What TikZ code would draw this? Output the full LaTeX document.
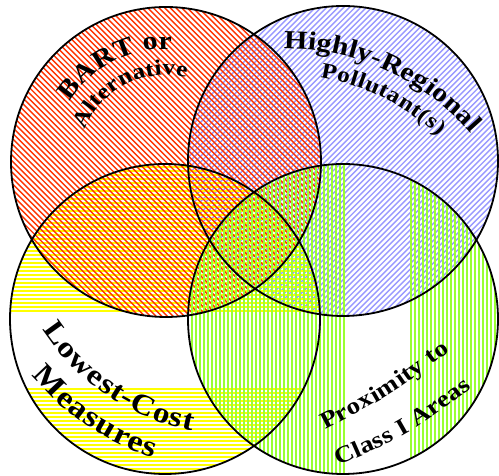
\documentclass[tikz,border=0pt]{standalone}
\usepackage{fontspec}
\setmainfont{Liberation Serif}[FakeStretch=1.15]
\usetikzlibrary{decorations.text}
\definecolor{hred}{RGB}{255,51,0}
\definecolor{hblue}{RGB}{153,153,255}
\definecolor{hyellow}{RGB}{255,255,0}
\definecolor{hgreen}{RGB}{153,255,51}
\newcommand\fBart{\fontsize{26}{28}\selectfont\bfseries}
\newcommand\fAlt{\fontsize{22}{24}\selectfont\bfseries}
\newcommand\fHigh{\fontsize{26}{28}\selectfont\bfseries}
\newcommand\fPoll{\fontsize{22}{24}\selectfont\bfseries}
\newcommand\fLow{\fontsize{29}{31}\selectfont\bfseries}
\newcommand\fMea{\fontsize{30}{32}\selectfont\bfseries}
\newcommand\fProx{\fontsize{23.5}{25}\selectfont\bfseries}
\begin{document}
\begin{tikzpicture}[x=1pt,y=1pt,
  dhatch/.style={line width=1.4pt},
  yhatch/.style={line width=1.8pt,hyellow},
  ghatch/.style={line width=1.3pt,hgreen},
  ring/.style={draw=black,line width=1.8pt},
  lbl/.style={decorate}]
\fill[white] (0,0) rectangle (499,476);
\useasboundingbox (0,0) rectangle (499,476);

% blue circle hatching (/)
\begin{scope}[shift={(343,315)}]
  \clip (0,0) circle[radius=155];
  \foreach \i in {-40,...,40} \draw[dhatch,hblue] (\i*5.66-165,-165) -- (\i*5.66+165,165);
\end{scope}

% yellow circle hatching (horizontal), with a gap band
\begin{scope}[shift={(165,157)}]
  \clip (0,0) circle[radius=155];
  \foreach \i in {0,...,37} \draw[yhatch] (-160,8+\i*4) -- (160,8+\i*4);
  \foreach \i in {0,...,22} \draw[yhatch] (-160,-70-\i*4) -- (160,-70-\i*4);
\end{scope}

% red circle hatching (\)
\begin{scope}[shift={(166,314)}]
  \clip (0,0) circle[radius=155];
  \foreach \i in {-40,...,40} \draw[dhatch,hred] (\i*5.66-165,165) -- (\i*5.66+165,-165);
\end{scope}

% green circle hatching (vertical), with a gap band
\begin{scope}[shift={(343,157)}]
  \clip (0,0) circle[radius=155];
  \foreach \i in {0,...,39} \draw[ghatch] (1-\i*4,-160) -- (1-\i*4,160);
  \foreach \i in {0,...,22} \draw[ghatch] (68+\i*4,-160) -- (68+\i*4,160);
\end{scope}

% outlines
\draw[ring] (166,314) circle[radius=155];
\draw[ring] (343,315) circle[radius=155];
\draw[ring] (165,157) circle[radius=155];
\draw[ring] (343,157) circle[radius=155];

% labels
\path[lbl,decoration={text along path,text={|\fBart|BART or},text align=fit to path}]
  ([shift={(148:113)}]166,314) arc[start angle=148,end angle=87,radius=113];
\path[lbl,decoration={text along path,text={|\fAlt|Alternative},text align=fit to path}]
  ([shift={(158.5:87)}]166,314) arc[start angle=158.5,end angle=76.5,radius=87];

\path[lbl,decoration={text along path,text={|\fHigh|Highly-Regional},text align=fit to path}]
  ([shift={(90.5:245)}]286,182) arc[start angle=90.5,end angle=41,radius=245];
\path[lbl,decoration={text along path,text={|\fPoll|Pollutant(s)},text align=fit to path}]
  ([shift={(81:219)}]286,182) arc[start angle=81,end angle=46,radius=219];

\path[lbl,decoration={text along path,text={|\fLow|Lowest-Cost},text align=fit to path}]
  ([shift={(213:231)}]236,272) arc[start angle=213,end angle=259,radius=231];
\path[lbl,decoration={text along path,text={|\fMea|Measures},text align=fit to path}]
  ([shift={(220:267)}]236,272) arc[start angle=220,end angle=252,radius=267];

\path[lbl,decoration={text along path,text={|\fProx|Proximity to},text align=fit to path}]
  (325,46) .. controls (390,80) .. (450,125);
\path[lbl,decoration={text along path,text={|\fProx|Class I Areas},text align=fit to path}]
  (338,10) .. controls (409,41) .. (472,88);
\end{tikzpicture}
\end{document}
